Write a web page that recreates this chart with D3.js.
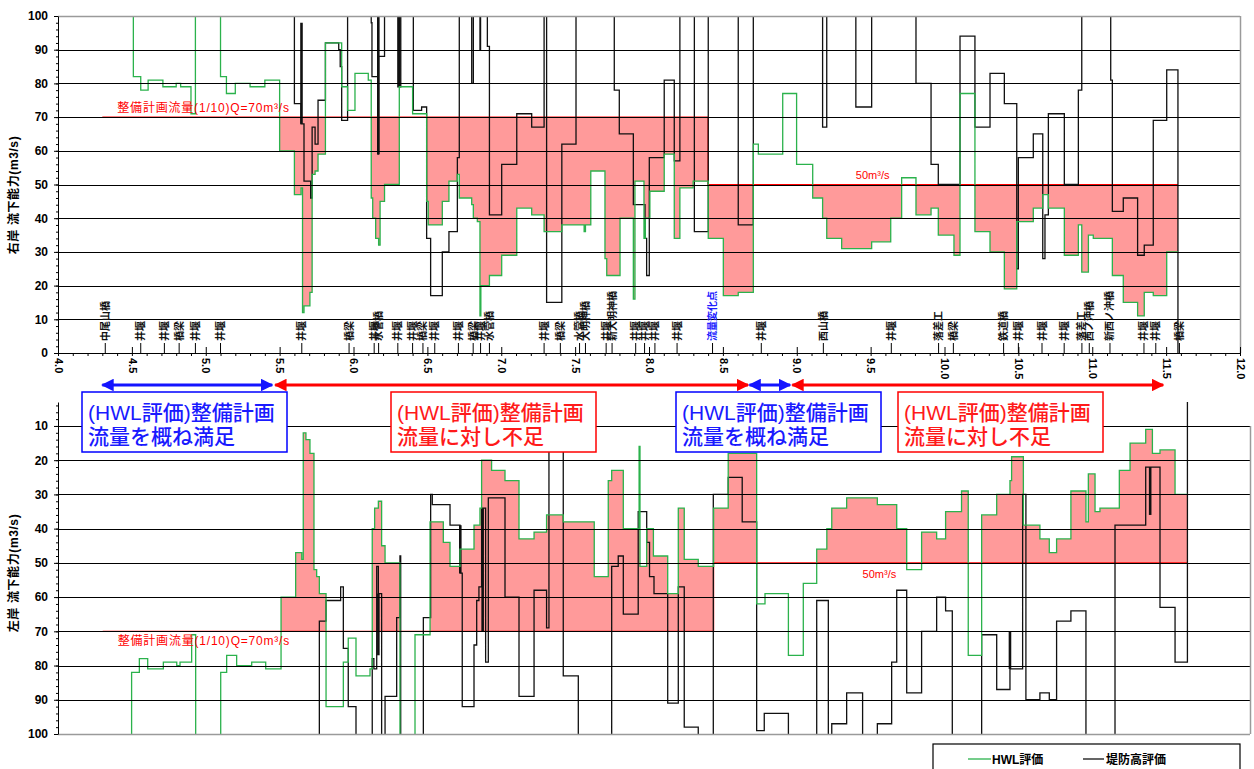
<!DOCTYPE html>
<html>
<head>
<meta charset="utf-8">
<script src="https://cdn.jsdelivr.net/npm/d3@7/dist/d3.min.js"></script>
<style>
  body { margin: 0; background: #fff; }
  svg text { font-family: "Liberation Sans", Arial, "Noto Sans CJK JP", sans-serif; }
</style>
</head>
<body>
<svg id="chart" width="1254" height="769"></svg>
<script>
'use strict';

/* global d3 */

// ---- data (km, m3/s). 120 = off the scale, 0 = axis ----
var xTickValues = d3.range(4, 12.001, 0.5);
var yTopTicks = d3.range(0, 101, 10);
var yBotTicks = d3.range(10, 101, 10);

var planFlow = [[4.3, 70], [8.4, 50], [11.58, 50]];

var rightHwl = [
  [4.0, 120], [4.51, 82], [4.56, 78], [4.61, 81], [4.71, 79], [4.80, 80], [4.83, 79], [4.90, 71], [4.93, 120],
  [5.10, 82], [5.14, 77], [5.20, 80], [5.30, 79], [5.40, 81], [5.50, 60], [5.60, 47], [5.645, 49], [5.655, 12],
  [5.665, 14], [5.705, 18], [5.72, 53], [5.74, 54], [5.76, 59], [5.81, 92], [5.92, 79], [5.96, 72], [6.01, 83],
  [6.10, 81], [6.12, 46], [6.13, 40], [6.15, 34], [6.17, 32], [6.18, 45], [6.21, 50], [6.31, 79], [6.40, 71],
  [6.495, 45], [6.506, 38], [6.601, 45], [6.646, 51], [6.703, 53], [6.716, 46], [6.80, 44], [6.811, 40],
  [6.838, 39], [6.856, 11], [6.862, 20], [6.92, 23], [7.003, 29], [7.105, 43], [7.206, 41], [7.29, 36],
  [7.41, 38], [7.561, 36], [7.57, 38], [7.606, 54], [7.702, 28], [7.714, 23], [7.804, 40], [7.894, 16],
  [7.905, 51], [7.966, 34], [7.975, 40], [8.006, 48], [8.103, 59], [8.171, 34], [8.209, 49], [8.299, 51],
  [8.401, 34], [8.503, 17], [8.604, 18], [8.706, 62], [8.74, 59], [8.905, 77], [8.999, 56], [9.108, 46],
  [9.175, 40], [9.203, 34], [9.304, 31], [9.507, 33], [9.636, 40], [9.71, 52], [9.807, 41], [9.909, 43],
  [9.958, 35], [10.064, 29], [10.105, 77], [10.206, 36], [10.308, 30], [10.405, 19], [10.489, 39], [10.601, 43],
  [10.665, 47], [10.703, 43], [10.811, 29], [10.906, 38], [10.929, 24], [10.974, 35], [11.007, 34], [11.136, 23],
  [11.21, 15], [11.307, 11], [11.352, 18], [11.413, 17], [11.504, 30], [11.58, 30]
];

var rightLevee = [
  [4.0, 120], [5.60, 74], [5.645, 68], [5.665, 51], [5.71, 46], [5.72, 67], [5.74, 62], [5.76, 75], [5.81, 92],
  [5.90, 90], [5.91, 85], [5.92, 69], [5.96, 120], [6.12, 98], [6.125, 82], [6.165, 59], [6.17, 88], [6.21, 120],
  [6.30, 79], [6.32, 120], [6.405, 72], [6.461, 73], [6.495, 34], [6.522, 17], [6.601, 30], [6.646, 36],
  [6.703, 58], [6.716, 120], [6.80, 80], [6.811, 120], [6.856, 90], [6.86, 120], [6.906, 91], [6.92, 41],
  [7.003, 56], [7.105, 71], [7.206, 67], [7.29, 120], [7.307, 15], [7.41, 62], [7.506, 120], [7.765, 78],
  [7.799, 65], [7.894, 44], [7.973, 34], [7.984, 23], [8.002, 58], [8.103, 81], [8.171, 57], [8.209, 120],
  [8.307, 36], [8.401, 120], [8.604, 38], [8.706, 120], [9.175, 67], [9.203, 120], [9.40, 73], [9.507, 120],
  [9.807, 80], [9.909, 56], [9.958, 50], [10.105, 94], [10.206, 67], [10.308, 83], [10.405, 74], [10.489, 25],
  [10.50, 58], [10.601, 65], [10.665, 28], [10.68, 41], [10.703, 71], [10.811, 50], [10.906, 78], [10.929, 120],
  [11.125, 81], [11.136, 42], [11.21, 46], [11.307, 29], [11.352, 32], [11.413, 69], [11.504, 84], [11.58, 0]
];

// thick short segments of the levee series: km, from, to
var rightSpikes = [[5.648, 68, 98], [6.168, 59, 100], [6.31, 79, 100]];

var leftHwl = [
  [4.0, 120], [4.494, 82], [4.546, 78], [4.602, 81], [4.707, 79], [4.797, 80], [4.819, 79], [4.897, 71], [4.924, 120],
  [5.092, 82], [5.132, 77], [5.199, 80], [5.30, 79], [5.394, 81], [5.497, 60], [5.595, 47], [5.636, 49], [5.646, 12],
  [5.664, 14], [5.691, 18], [5.718, 52], [5.736, 54], [5.754, 59], [5.799, 92], [5.915, 79], [5.948, 72], [6.00, 83],
  [6.094, 81], [6.109, 40], [6.125, 34], [6.139, 34], [6.15, 32], [6.172, 45], [6.195, 50], [6.295, 120], [6.396, 71],
  [6.497, 38], [6.586, 44], [6.631, 51], [6.698, 46], [6.792, 39], [6.832, 34], [6.843, 20], [6.91, 23], [7.00, 26],
  [7.094, 43], [7.195, 41], [7.279, 36], [7.391, 38], [7.599, 54], [7.693, 26], [7.716, 23], [7.794, 40], [7.90, 16],
  [7.906, 51], [7.951, 40], [7.996, 48], [8.092, 59], [8.163, 34], [8.203, 49], [8.297, 51], [8.40, 34], [8.498, 18],
  [8.689, 62], [8.745, 59], [8.902, 77], [9.002, 56], [9.092, 46], [9.16, 40], [9.193, 34], [9.293, 31], [9.499, 33],
  [9.629, 40], [9.696, 52], [9.796, 41], [9.897, 43], [9.957, 35], [10.064, 29], [10.109, 77], [10.199, 36],
  [10.30, 30], [10.389, 26], [10.40, 19], [10.479, 39], [10.59, 43], [10.653, 47], [10.702, 43], [10.798, 29],
  [10.899, 38], [10.915, 24], [10.96, 35], [10.993, 34], [11.123, 23], [11.195, 15], [11.30, 11], [11.345, 18],
  [11.396, 17], [11.497, 30], [11.58, 30]
];

var leftLevee = [
  [4.0, 120], [5.754, 67], [5.799, 61], [5.897, 57], [5.915, 75], [5.948, 92], [6.00, 120], [6.109, 78], [6.12, 81],
  [6.139, 51], [6.15, 59], [6.172, 120], [6.195, 89], [6.273, 66], [6.295, 48], [6.30, 120], [6.452, 66], [6.501, 30],
  [6.512, 33], [6.631, 39], [6.698, 53], [6.713, 92], [6.792, 74], [6.81, 61], [6.825, 57], [6.843, 34], [6.87, 79],
  [6.888, 31], [7.00, 60], [7.094, 89], [7.195, 58], [7.279, 69], [7.295, 5], [7.391, 83], [7.492, 120], [7.716, 51],
  [7.76, 48], [7.794, 65], [7.894, 35], [7.951, 44], [7.97, 54], [8.0, 59], [8.092, 91], [8.163, 57], [8.203, 98],
  [8.297, 120], [8.398, 30], [8.498, 25], [8.592, 38], [8.689, 99], [8.74, 94], [8.902, 120], [9.092, 61], [9.17, 120],
  [9.193, 97], [9.293, 88], [9.40, 120], [9.499, 97], [9.595, 79], [9.629, 58], [9.696, 88], [9.796, 70], [9.897, 60],
  [9.957, 64], [10.002, 120], [10.199, 71], [10.30, 87], [10.389, 81], [10.474, 30], [10.496, 90], [10.59, 88],
  [10.653, 90], [10.702, 67], [10.798, 64], [10.899, 120], [11.094, 39], [11.30, 22], [11.396, 63], [11.497, 79],
  [11.58, 0]
];

var leftSpikes = [[6.15, 59, 77], [6.70, 39, 53], [6.85, 34, 70], [10.389, 70, 81], [11.33, 22, 36]];

var landmarkKm = [4.32, 4.56, 4.72, 4.82, 4.93, 5.10, 5.65, 5.97, 6.14, 6.17, 6.30, 6.40, 6.47, 6.55, 6.71, 6.81,
  6.86, 6.92, 7.29, 7.40, 7.53, 7.57, 7.71, 7.75, 7.91, 7.97, 8.04, 8.19, 8.43, 8.76, 9.18, 9.64, 9.96, 10.06,
  10.40, 10.50, 10.66, 10.81, 10.93, 10.98, 11.12, 11.35, 11.43, 11.59];
var landmarkNames = ['中尾山橋', '井堰', '井堰', '橋梁', '井堰', '井堰', '井堰', '橋梁', '井堰', '水管橋', '井堰', '井堰',
  '橋梁', '井堰', '井堰', '橋梁', '井堰', '水管橋', '井堰', '橋梁', '水管橋', '大明神橋', '井堰', '新大明神橋', '井堰',
  '井堰', '井堰', '井堰', '流量変化点', '井堰', '西山橋', '井堰', '落差工', '橋梁', '鉄道橋', '井堰', '井堰', '井堰',
  '落差工', '西ノ沖橋', '新西ノ沖橋', '井堰', '井堰', '橋梁'];

var sectionFrom = [4.3, 5.47, 8.68, 8.97];
var sectionTo = [5.45, 8.67, 8.955, 11.48];
var sectionOk = [true, false, true, false];
var noteLine1 = '(HWL評価)整備計画';
var noteOkLine2 = '流量を概ね満足';
var noteNgLine2 = '流量に対し不足';

// ---- layout ----
var GREEN = '#2bb24c';
var PINK = '#ff9a9a';
var BLUE = '#1a1aff';
var RED = '#ff1a1a';

var svg = d3.select('#chart');

var xTop = d3.scaleLinear().domain([4, 12]).range([58, 1240]);
var yTop = d3.scaleLinear().domain([0, 100]).range([353, 16]);
var xBot = d3.scaleLinear().domain([4, 12]).range([58, 1250]);
var yBot = d3.scaleLinear().domain([3, 100]).range([402, 734]);

var defs = svg.append('defs');

function stepAt(series, k) {
  var i = d3.bisector(function (d) { return d[0]; }).right(series, k) - 1;
  return i < 0 ? null : series[i][1];
}

function drawPanel(opt) {
  var x = opt.x, y = opt.y;
  var x0 = x.range()[0], x1 = x.range()[1];
  var yr = y.range();
  var yMin = Math.min(yr[0], yr[1]), yMax = Math.max(yr[0], yr[1]);
  var g = svg.append('g');

  defs.append('clipPath').attr('id', opt.id)
    .append('rect').attr('x', x0).attr('y', yMin).attr('width', x1 - x0).attr('height', yMax - yMin);

  var plot = g.append('g').attr('clip-path', 'url(#' + opt.id + ')');

  // shortfall fill between plan flow and HWL evaluation
  var ks = planFlow.map(function (d) { return d[0]; })
    .concat(opt.hwl.map(function (d) { return d[0]; }))
    .filter(function (k) { return k >= planFlow[0][0] && k <= planFlow[planFlow.length - 1][0]; });
  ks = Array.from(new Set(ks)).sort(d3.ascending);
  var fillData = ks.map(function (k) {
    var p = stepAt(planFlow, k), h = stepAt(opt.hwl, k);
    return { k: k, p: p, h: Math.min(h, p) };
  });
  var area = d3.area()
    .x(function (d) { return x(d.k); })
    .y0(function (d) { return y(d.p); })
    .y1(function (d) { return y(d.h); })
    .curve(d3.curveStepAfter);
  plot.append('path').datum(fillData).attr('d', area).attr('fill', PINK);

  // grid
  g.append('g').selectAll('line').data(opt.grid).enter().append('line')
    .attr('x1', x0).attr('x2', x1)
    .attr('y1', function (d) { return Math.round(y(d)) + 0.5; })
    .attr('y2', function (d) { return Math.round(y(d)) + 0.5; })
    .attr('stroke', function (d) { return d === 100 ? '#9a9a9a' : '#000'; })
    .attr('stroke-width', function (d) { return d === 100 ? 1.5 : 1; });
  g.append('line').attr('x1', x1 + 0.5).attr('x2', x1 + 0.5).attr('y1', opt.frameTop).attr('y2', yMax)
    .attr('stroke', '#9a9a9a').attr('stroke-width', 1.5);

  var line = d3.line()
    .x(function (d) { return x(d[0]); })
    .y(function (d) { return y(d[1]); })
    .curve(d3.curveStepAfter);

  plot.append('path').datum(planFlow).attr('d', line)
    .attr('fill', 'none').attr('stroke', '#ff0000').attr('stroke-width', 1.2);

  plot.append('path').datum(opt.levee).attr('d', line)
    .attr('fill', 'none').attr('stroke', '#111').attr('stroke-width', 1.3);

  plot.append('g').selectAll('line').data(opt.spikes).enter().append('line')
    .attr('x1', function (d) { return x(d[0]); })
    .attr('x2', function (d) { return x(d[0]); })
    .attr('y1', function (d) { return y(d[1]); })
    .attr('y2', function (d) { return y(d[2]); })
    .attr('stroke', '#111').attr('stroke-width', 2.6);

  plot.append('path').datum(opt.hwl).attr('d', line)
    .attr('fill', 'none').attr('stroke', GREEN).attr('stroke-width', 1.3);

  // y axis
  var yAxis = g.append('g').attr('transform', 'translate(' + x0 + ',0)')
    .call(d3.axisLeft(y).tickValues(opt.ticks).tickSize(4).tickPadding(6).tickSizeOuter(0));
  yAxis.selectAll('text').style('font-size', '12px').style('font-weight', 'bold');
  g.append('g').attr('transform', 'translate(' + x0 + ',0)')
    .call(d3.axisLeft(y).tickValues(opt.minor).tickSize(2).tickFormat('').tickSizeOuter(0))
    .select('.domain').remove();

  // plan flow labels
  g.append('text').attr('x', x(4.3) + 15).attr('y', y(70) + opt.labelDy)
    .attr('fill', '#ff0000').style('font-size', '12px').style('letter-spacing', '0.8px')
    .text('整備計画流量(1/10)Q=70m³/s');
  g.append('text').attr('x', x(9.4)).attr('y', y(50) + opt.label50Dy)
    .attr('fill', '#ff0000').style('font-size', '11px')
    .text('50m³/s');

  g.append('text').attr('transform', 'translate(18,' + opt.titleY + ') rotate(-90)')
    .attr('text-anchor', 'middle').style('font-size', '12px').style('font-weight', 'bold')
    .style('letter-spacing', '0.6px')
    .text(opt.title);

  return g;
}

drawPanel({
  id: 'clip-top', x: xTop, y: yTop, hwl: rightHwl, levee: rightLevee, spikes: rightSpikes,
  grid: d3.range(10, 101, 10), ticks: yTopTicks, minor: d3.range(0, 101, 2), frameTop: 16,
  labelDy: -5, label50Dy: -6, titleY: 195, title: '右岸 流下能力(m3/s)'
});

drawPanel({
  id: 'clip-bot', x: xBot, y: yBot, hwl: leftHwl, levee: leftLevee, spikes: leftSpikes,
  grid: d3.range(10, 101, 10), ticks: yBotTicks, minor: d3.range(4, 101, 2), frameTop: 426,
  labelDy: 14, label50Dy: 15, titleY: 573, title: '左岸 流下能力(m3/s)'
});

// ---- x axis (top panel) ----
var axisY = yTop(0);
var xAxisG = svg.append('g').attr('transform', 'translate(0,' + axisY + ')')
  .call(d3.axisBottom(xTop).tickValues(xTickValues).tickSizeInner(-6).tickSizeOuter(0)
    .tickFormat(d3.format('.1f')));
xAxisG.selectAll('text')
  .attr('transform', 'rotate(90)').attr('x', 5).attr('y', 0).attr('dy', '0.35em')
  .style('text-anchor', 'start').style('font-size', '11px').style('font-weight', 'bold');
svg.append('g').attr('transform', 'translate(0,' + axisY + ')')
  .call(d3.axisBottom(xTop).tickValues(d3.range(4, 12.001, 0.1)).tickSize(3).tickFormat('').tickSizeOuter(0))
  .select('.domain').remove();

// structure labels along the channel
var marks = svg.append('g');
landmarkKm.forEach(function (k, i) {
  var px = xTop(k);
  marks.append('line').attr('x1', px).attr('x2', px).attr('y1', axisY - 10).attr('y2', axisY)
    .attr('stroke', '#000').attr('stroke-width', 1);
  marks.append('text').attr('transform', 'translate(' + (px + 3.5) + ',' + (axisY - 12) + ') rotate(-90)')
    .attr('fill', landmarkNames[i] === '流量変化点' ? '#2020ff' : '#111')
    .style('font-size', '10px').style('font-weight', 'bold')
    .text(landmarkNames[i]);
});

// ---- section arrows ----
function arrowHead(id, color) {
  defs.append('marker').attr('id', id).attr('viewBox', '0 0 10 10')
    .attr('refX', 9).attr('refY', 5).attr('markerWidth', 4.2).attr('markerHeight', 4.2)
    .attr('markerUnits', 'strokeWidth').attr('orient', 'auto-start-reverse')
    .append('path').attr('d', 'M0,0L10,5L0,10Z').attr('fill', color);
}
arrowHead('ah-blue', '#1414ff');
arrowHead('ah-red', '#ff0000');

var arrowY = 385;
sectionFrom.forEach(function (k, i) {
  var c = sectionOk[i] ? '#1414ff' : '#ff0000';
  var m = sectionOk[i] ? 'url(#ah-blue)' : 'url(#ah-red)';
  svg.append('line').attr('x1', xTop(k)).attr('x2', xTop(sectionTo[i]))
    .attr('y1', arrowY).attr('y2', arrowY)
    .attr('stroke', c).attr('stroke-width', 3)
    .attr('marker-start', m).attr('marker-end', m);
});

// ---- note boxes ----
var noteBoxX = [82, 391, 676, 898];
noteBoxX.forEach(function (bx, i) {
  var ok = sectionOk[i];
  var c = ok ? BLUE : RED;
  var nb = svg.append('g').attr('transform', 'translate(' + bx + ',392)');
  nb.append('rect').attr('width', 205).attr('height', 60)
    .attr('fill', '#fff').attr('stroke', ok ? '#0000ff' : '#ff0000').attr('stroke-width', 1.5);
  nb.append('text').attr('x', 6).attr('y', 28).attr('fill', c)
    .style('font-size', '21px').style('font-weight', '500')
    .text(noteLine1);
  nb.append('text').attr('x', 6).attr('y', 52).attr('fill', c)
    .style('font-size', '21px').style('font-weight', '500')
    .text(ok ? noteOkLine2 : noteNgLine2);
});

// ---- legend ----
var lg = svg.append('g');
lg.append('rect').attr('x', 933).attr('y', 744).attr('width', 307).attr('height', 40)
  .attr('fill', '#fff').attr('stroke', '#000').attr('stroke-width', 1.2);
lg.append('line').attr('x1', 968).attr('x2', 991).attr('y1', 759).attr('y2', 759)
  .attr('stroke', GREEN).attr('stroke-width', 1.3);
lg.append('text').attr('x', 992).attr('y', 764).style('font-size', '12px').style('font-weight', 'bold')
  .text('HWL評価');
lg.append('line').attr('x1', 1083).attr('x2', 1104).attr('y1', 759).attr('y2', 759)
  .attr('stroke', '#111').attr('stroke-width', 1.3);
lg.append('text').attr('x', 1106).attr('y', 764).style('font-size', '12px').style('font-weight', 'bold')
  .text('堤防高評価');
</script>
</body>
</html>
